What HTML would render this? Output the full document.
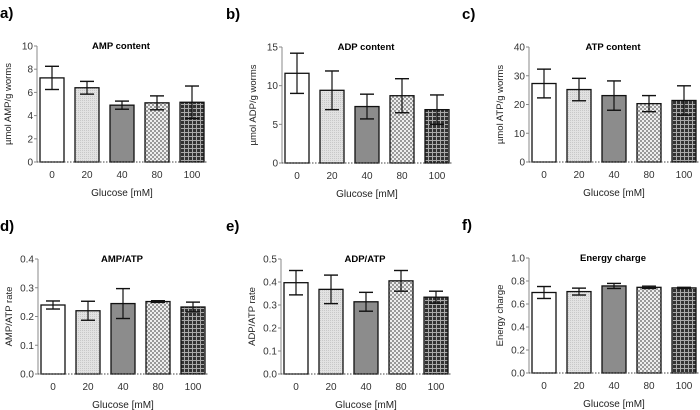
<!DOCTYPE html>
<html><head><meta charset="utf-8"><style>
html,body{margin:0;padding:0;background:#fff;}
svg{display:block;font-family:"Liberation Sans",Arial,sans-serif;}
</style></head><body>
<svg id="fig" width="700" height="410" viewBox="0 0 700 410">
<defs>
<pattern id="p1" width="2" height="2" patternUnits="userSpaceOnUse"><rect width="2" height="2" fill="#e2e2e2"/><rect width="1" height="1" fill="#c8c8c8"/></pattern>
<pattern id="p3" width="4" height="4" patternUnits="userSpaceOnUse"><rect width="4" height="4" fill="#eee"/><rect width="2" height="2" fill="#999"/><rect x="2" y="2" width="2" height="2" fill="#999"/></pattern>
<pattern id="p4" width="4" height="4" patternUnits="userSpaceOnUse"><rect width="4" height="4" fill="#333"/><rect width="4" height="1" fill="#aaa"/><rect width="1" height="4" fill="#aaa"/></pattern>
</defs>
</svg>
<script>
const categories=["0","20","40","80","100"];
const fills=["#fff","url(#p1)","#8c8c8c","url(#p3)","url(#p4)"];
const amp=[7.25,6.4,4.9,5.1,5.15], ampErr=[1.0,0.55,0.35,0.6,1.4];
const adp=[11.6,9.4,7.3,8.7,6.9], adpErr=[2.6,2.5,1.6,2.2,1.9];
const atp=[27.3,25.2,23.1,20.3,21.4], atpErr=[5.0,3.9,5.1,2.8,5.1];
const ampAtp=[0.24,0.22,0.245,0.252,0.233], ampAtpErr=[0.014,0.033,0.052,0.003,0.017];
const adpAtp=[0.397,0.368,0.314,0.405,0.334], adpAtpErr=[0.053,0.062,0.041,0.045,0.026];
const ec=[0.70,0.708,0.757,0.745,0.74], ecErr=[0.052,0.03,0.022,0.01,0.005];
const ticksA=["0","2","4","6","8","10"], ticksB=["0","5","10","15"], ticksC=["0","10","20","30","40"];
const ticksD=["0.0","0.1","0.2","0.3","0.4"], ticksE=["0.0","0.1","0.2","0.3","0.4","0.5"], ticksF=["0.0","0.2","0.4","0.6","0.8","1.0"];
const panels=[
 {id:"a",c0:52,top:46,bot:162,max:10,ticks:ticksA,vals:amp,err:ampErr,title:"AMP content",yt:"µmol AMP/g worms"},
 {id:"b",c0:297,top:47,bot:163,max:15,ticks:ticksB,vals:adp,err:adpErr,title:"ADP content",yt:"µmol ADP/g worms"},
 {id:"c",c0:544,top:47,bot:162,max:40,ticks:ticksC,vals:atp,err:atpErr,title:"ATP content",yt:"µmol ATP/g worms"},
 {id:"d",c0:53,top:259,bot:374,max:0.4,ticks:ticksD,vals:ampAtp,err:ampAtpErr,title:"AMP/ATP",yt:"AMP/ATP rate"},
 {id:"e",c0:296,top:259,bot:374,max:0.5,ticks:ticksE,vals:adpAtp,err:adpAtpErr,title:"ADP/ATP",yt:"ADP/ATP rate"},
 {id:"f",c0:544,top:258,bot:373,max:1.0,ticks:ticksF,vals:ec,err:ecErr,title:"Energy charge",yt:"Energy charge"}
];
const svg=document.getElementById('fig');const NS="http://www.w3.org/2000/svg";
function mk(t,a,p){const e=document.createElementNS(NS,t);for(const k in a)e.setAttribute(k,a[k]);(p||svg).appendChild(e);return e;}
panels.forEach(P=>{
 const g=mk('g',{});
 
 
 const ax=P.c0-15, xend=P.c0+4*35+16;
 const y=v=>P.bot-(v/P.max)*(P.bot-P.top);
 const xc=i=>P.c0+35*i;
 const lx=P.id==='a'||P.id==='d'?0:(P.id==='b'||P.id==='e'?226:462);
 let t=mk('text',{x:lx,y:P.top-28,'font-size':15,'font-weight':'bold'},g);t.textContent=P.id+')';
 
 t=mk('text',{x:P.c0+69,y:P.top+3,'font-size':9.5,'font-weight':'bold','text-anchor':'middle'},g);t.textContent=P.title;
 
 t=mk('text',{x:0,y:0,'font-size':9.5,'text-anchor':'middle',fill:'#222',transform:`translate(${ax-26},${(P.top+P.bot)/2}) rotate(-90)`},g);t.textContent=P.yt;
 
 t=mk('text',{x:P.c0+70,y:P.bot+34,'font-size':10,'text-anchor':'middle',fill:'#222'},g);t.textContent='Glucose [mM]';
 
 mk('line',{x1:ax,x2:ax,y1:P.top,y2:P.bot,stroke:'#888','stroke-width':1},g);
 P.ticks.forEach((tk,i)=>{const v=P.max*i/(P.ticks.length-1);const yy=y(v);
  mk('line',{x1:ax-3,x2:ax,y1:yy,y2:yy,stroke:'#888'},g);
  const tt=mk('text',{x:ax-4,y:yy+3.5,'font-size':10,'text-anchor':'end',fill:'#333'},g);tt.textContent=tk;
  });
 P.vals.forEach((v,i)=>{const x=xc(i);
  const r=mk('rect',{x:x-12,y:y(v),width:24,height:P.bot-y(v),fill:fills[i],stroke:'#111','stroke-width':1.3},g);
  
  const e=P.err[i];
  mk('line',{x1:x,x2:x,y1:y(v+e),y2:y(v-e),stroke:'#111','stroke-width':1.2},g);
  mk('line',{x1:x-7,x2:x+7,y1:y(v+e),y2:y(v+e),stroke:'#111','stroke-width':1.4},g);
  mk('line',{x1:x-7,x2:x+7,y1:y(v-e),y2:y(v-e),stroke:'#111','stroke-width':1.4},g);
  const tt=mk('text',{x:x,y:P.bot+16,'font-size':10,'text-anchor':'middle',fill:'#333'},g);tt.textContent=categories[i];
  });
 mk('line',{x1:ax,x2:xend,y1:P.bot,y2:P.bot,stroke:'#444','stroke-width':1,'stroke-dasharray':'1.5,1.5'},g);
});
</script>
</body></html>
